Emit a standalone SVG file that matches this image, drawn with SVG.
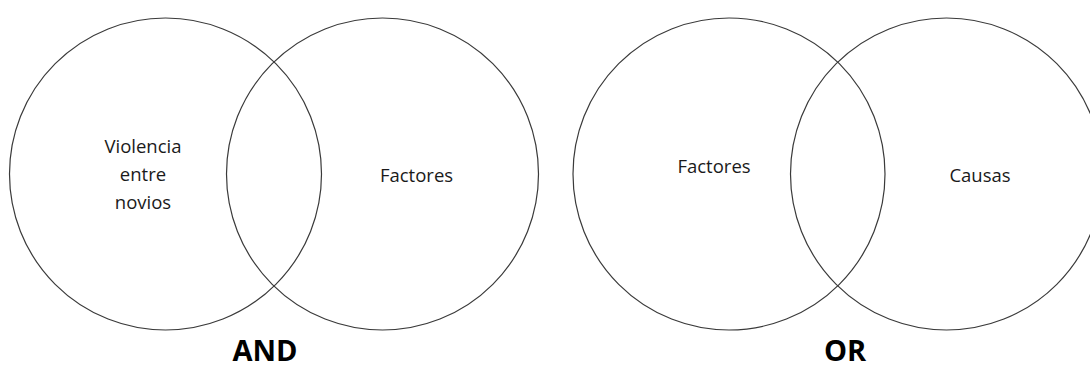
<svg xmlns="http://www.w3.org/2000/svg" width="1090" height="367" viewBox="0 0 1090 367">
<style>
.c{fill:none;stroke:#3a3a3a;stroke-width:1.2}
.t{font-family:"Open Sans","Liberation Sans",sans-serif;font-size:18.5px;fill:#1a1a1a;text-anchor:middle}
.h{font-family:"Open Sans","Liberation Sans",sans-serif;font-size:29px;font-weight:bold;fill:#000;text-anchor:middle}
</style>
<rect width="1090" height="367" fill="#fff"/>
<g id="and-left">
<circle class="c" cx="165.5" cy="174" r="156"/>
<text class="t" x="143" y="153">Violencia</text>
<text class="t" x="143" y="181">entre</text>
<text class="t" x="143" y="209">novios</text>
</g>
<g id="and-right">
<circle class="c" cx="382.5" cy="174" r="156"/>
<text class="t" x="416.5" y="182">Factores</text>
</g>
<g id="and-label"><text class="h" x="265" y="361">AND</text></g>
<g id="or-left">
<circle class="c" cx="729" cy="174" r="156"/>
<text class="t" x="714" y="173">Factores</text>
</g>
<g id="or-right">
<circle class="c" cx="946.5" cy="174" r="156"/>
<text class="t" x="980" y="182">Causas</text>
</g>
<g id="or-label"><text class="h" x="845" y="361">OR</text></g>
<g id="connectors"/>
</svg>
